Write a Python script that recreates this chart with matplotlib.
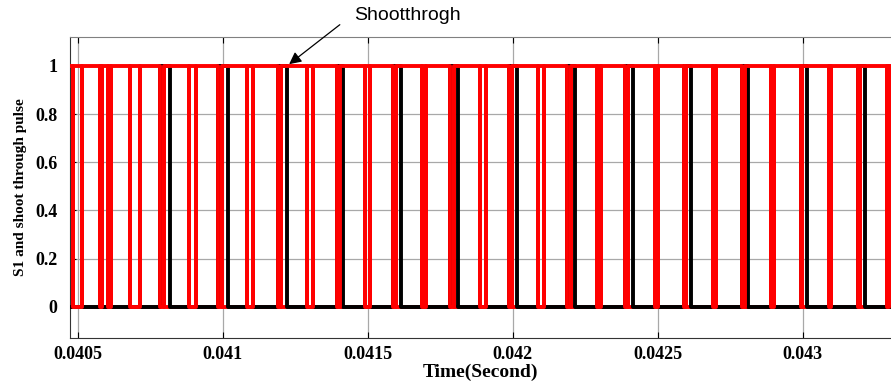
import matplotlib.pyplot as plt

# shoot-through intervals (s): red trace is pulled low, pulse trace high
st_start = [0.040486, 0.040579, 0.040605, 0.040680, 0.040783, 0.040886, 0.040986, 0.041084,
            0.041192, 0.041290, 0.041393, 0.041490, 0.041589, 0.041687, 0.041786, 0.041889,
            0.041989, 0.042089, 0.042189, 0.042292, 0.042389, 0.042492, 0.042592, 0.042692,
            0.042792, 0.042892, 0.042994, 0.043092, 0.043192, 0.043292]
st_end = [0.040514, 0.040584, 0.040616, 0.040716, 0.040797, 0.040910, 0.040998, 0.041106,
          0.041201, 0.041313, 0.041404, 0.041510, 0.041598, 0.041703, 0.041798, 0.041907,
          0.041998, 0.042107, 0.042201, 0.042304, 0.042398, 0.042501, 0.042599, 0.042701,
          0.042801, 0.042901, 0.042999, 0.043099, 0.043199, 0.043299]

# S1 gate pulses (s)
s1_rise = [0.040783, 0.040986, 0.041192, 0.041393, 0.041589, 0.041786, 0.041989,
           0.042189, 0.042389, 0.042592, 0.042792, 0.042994, 0.043192]
s1_fall = [0.040819, 0.041019, 0.041222, 0.041415, 0.041615, 0.041812, 0.042015,
           0.042216, 0.042416, 0.042616, 0.042812, 0.043015, 0.043215]

t_first = 0.040474
t_last = 0.043305

xticks = [0.0405, 0.041, 0.0415, 0.042, 0.0425, 0.043]
xtick_labels = ['0.0405', '0.041', '0.0415', '0.042', '0.0425', '0.043']
yticks = [0, 0.2, 0.4, 0.6, 0.8, 1]
ytick_labels = ['0', '0.2', '0.4', '0.6', '0.8', '1']


def pulse_train(t_on, t_off, base):
    t = [t_first]
    y = [base]
    for a, b in zip(t_on, t_off):
        t += [a, a, b, b]
        y += [base, 1 - base, 1 - base, base]
    t.append(t_last)
    y.append(base)
    return t, y


W, H = 891, 385
fig = plt.figure(figsize=(W / 100, H / 100), dpi=100)
ax = fig.add_axes([70 / W, 1 - 338 / H, 1 - 70 / W, (338 - 37) / H])

t_st, y_st = pulse_train(st_start, st_end, 0)
t_s1, y_s1 = pulse_train(s1_rise, s1_fall, 0)
t_red, y_red = pulse_train(st_start, st_end, 1)

ax.plot(t_st, y_st, color='red', lw=2.8, zorder=3)
ax.plot(t_s1, y_s1, color='black', lw=2.8, zorder=4)
ax.plot(t_red, y_red, color='red', lw=2.8, zorder=5)

ax.set_xlim(t_first, t_last)
ax.set_ylim(-0.13, 1.12)
ax.set_xticks(xticks)
ax.set_xticklabels(xtick_labels)
ax.set_yticks(yticks)
ax.set_yticklabels(ytick_labels)
ax.grid(True, color='#a8a8a8', lw=0.9)
ax.tick_params(direction='in', top=True, right=False, length=4, width=0.8)
for lab in ax.get_xticklabels() + ax.get_yticklabels():
    lab.set_family('Liberation Serif')
    lab.set_fontweight('bold')
    lab.set_fontsize(13)
ax.tick_params(axis='y', pad=9)
ax.tick_params(axis='x', pad=6)
ax.spines['right'].set_visible(False)
ax.spines['top'].set_color('#808080')
ax.spines['left'].set_color('#333333')
ax.spines['bottom'].set_color('#333333')

ax.set_xlabel('Time(Second)', family='Liberation Serif', fontweight='bold', fontsize=14, labelpad=0)
ax.set_ylabel('S1 and shoot through pulse', family='Liberation Serif', fontweight='bold',
              fontsize=11, labelpad=6)

fig.text(407 / W, 1 - 15 / H, 'Shootthrogh', family='Liberation Sans', fontsize=14,
         ha='center', va='center')
ax.annotate('', xy=(0.041222, 1.0), xycoords='data',
            xytext=(342, H - 23), textcoords='figure pixels',
            arrowprops=dict(arrowstyle='-|>', color='black', lw=0.9, mutation_scale=18),
            annotation_clip=False, zorder=6)

fig.savefig('out.png', dpi=100)
